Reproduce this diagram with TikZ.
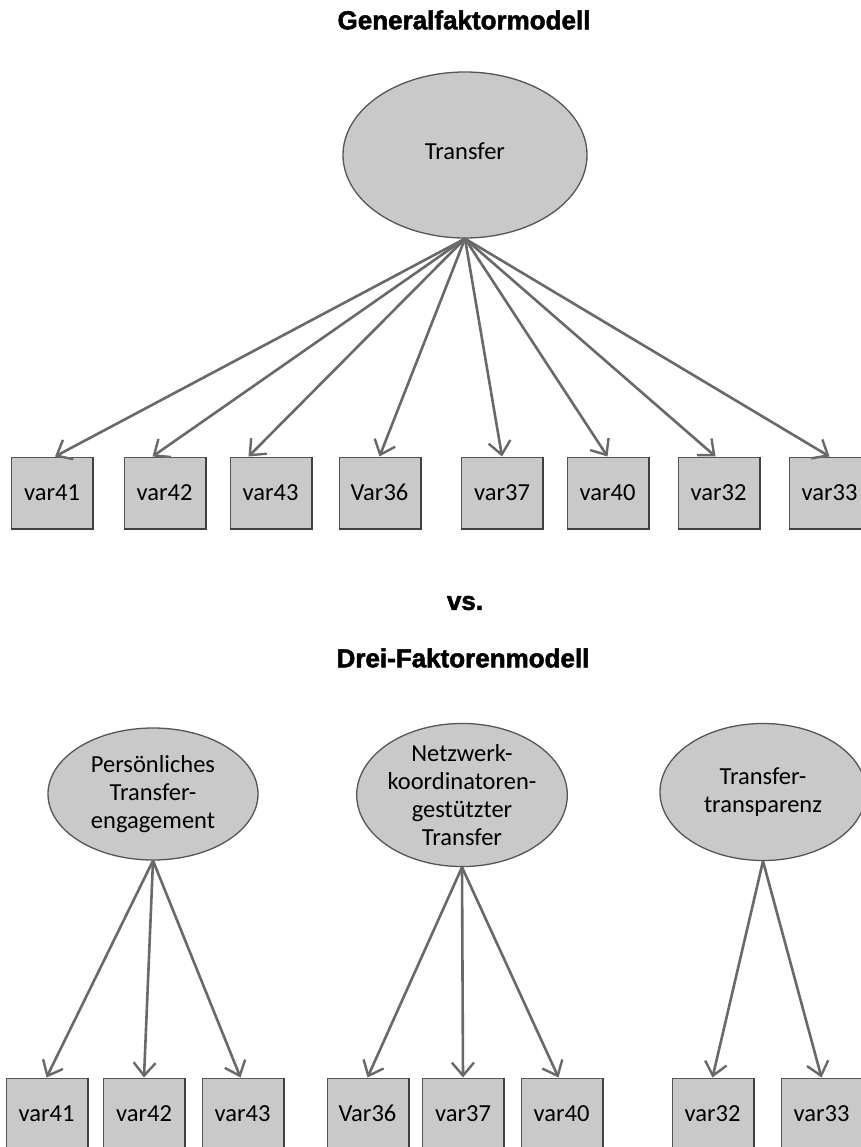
\documentclass[tikz,border=0pt]{standalone}
\usepackage{fontspec}
\setmainfont{Carlito}
\newfontface\headfont{Liberation Sans Bold}[FakeBold=2]
\usetikzlibrary{shapes.geometric,arrows.meta,calc}
\definecolor{boxfill}{RGB}{201,201,201}
\definecolor{edgegray}{RGB}{85,85,85}
\definecolor{shadegray}{RGB}{65,65,65}
\definecolor{arrowgray}{RGB}{105,105,105}
\begin{document}
\begin{tikzpicture}[x=1pt,y=-1pt,
  title/.style={font=\headfont\fontsize{26}{30}\selectfont, inner sep=0},
  factor/.style={ellipse, draw=edgegray, line width=1.3pt, fill=boxfill,
    inner sep=0, align=center, font=\fontsize{24.5}{28}\selectfont},
  indicator/.style={rectangle, draw=edgegray, line width=1pt, fill=boxfill,
    minimum width=81pt, minimum height=71pt, inner sep=0,
    font=\fontsize{24.5}{28}\selectfont},
  load/.style={draw=arrowgray, line width=2.6pt,
    -{Straight Barb[length=13pt,width=22pt,line width=2.4pt]}}
]
\useasboundingbox (0,0) rectangle (860,1147);
\fill[white] (0,0) rectangle (860,1147);

% ---------- general factor model ----------
\node[title] (t1) at (464,20) {Generalfaktormodell};
\node[factor, minimum width=244pt, minimum height=166pt] (g) at (465,155)
  {\raisebox{7pt}{Transfer}};

\foreach \n/\x/\lab in {a41/52/var41, a42/164.5/var42, a43/270.5/var43, a36/379.5/Var36,
                        a37/502/var37, a40/607.5/var40, a32/718.5/var32, a33/829.5/var33}{
  \node[indicator] (\n) at (\x,492.5) {\lab};
  \draw[shadegray, line width=2pt] (\n.north east) -- (\n.south east) -- (\n.south west);
}

\draw[load] (g.south) -- ([xshift=3pt]a41.north);
\draw[load] (g.south) -- ([xshift=-12pt]a42.north);
\draw[load] (g.south) -- ([xshift=-22pt]a43.north);
\draw[load] (g.south) -- (a36.north);
\draw[load] (g.south) -- (a37.north);
\draw[load] (g.south) -- (a40.north);
\draw[load] (g.south) -- ([xshift=-3pt]a32.north);
\draw[load] (g.south) -- (a33.north);

% ---------- three factor model ----------
\node[title] (vs) at (465,603) {vs.};
\node[title] (t2) at (463,658) {Drei-Faktorenmodell};

\node[factor, minimum width=210pt, minimum height=132pt] (p1) at (153,794)
  {Persönliches\\Transfer-\\engagement};
\node[factor, minimum width=197pt, minimum height=136pt] (p2) at (462,795)
  {Netzwerk-\\koordinatoren-\\gestützter\\Transfer};
\node[factor, minimum width=206pt, minimum height=137pt] (p3) at (763,792)
  {Transfer-\\transparenz};

\foreach \n/\x/\lab in {b41/46.5/var41, b42/144/var42, b43/242.5/var43, b36/367.5/Var36,
                        b37/463/var37, b40/561.5/var40, b32/712.5/var32, b33/821.5/var33}{
  \node[indicator] (\n) at (\x,1113.5) {\lab};
  \draw[shadegray, line width=2pt] (\n.north east) -- (\n.south east) -- (\n.south west);
}

\draw[load] (p1.south) -- (b41.north);
\draw[load] (p1.south) -- (b42.north);
\draw[load] (p1.south) -- ([xshift=-2pt]b43.north);
\draw[load] (p2.south) -- (b36.north);
\draw[load] (p2.south) -- (b37.north);
\draw[load] (p2.south) -- ([xshift=-3pt]b40.north);
\draw[load] (p3.south) -- (b32.north);
\draw[load] (p3.south) -- (b33.north);
\end{tikzpicture}
\end{document}
